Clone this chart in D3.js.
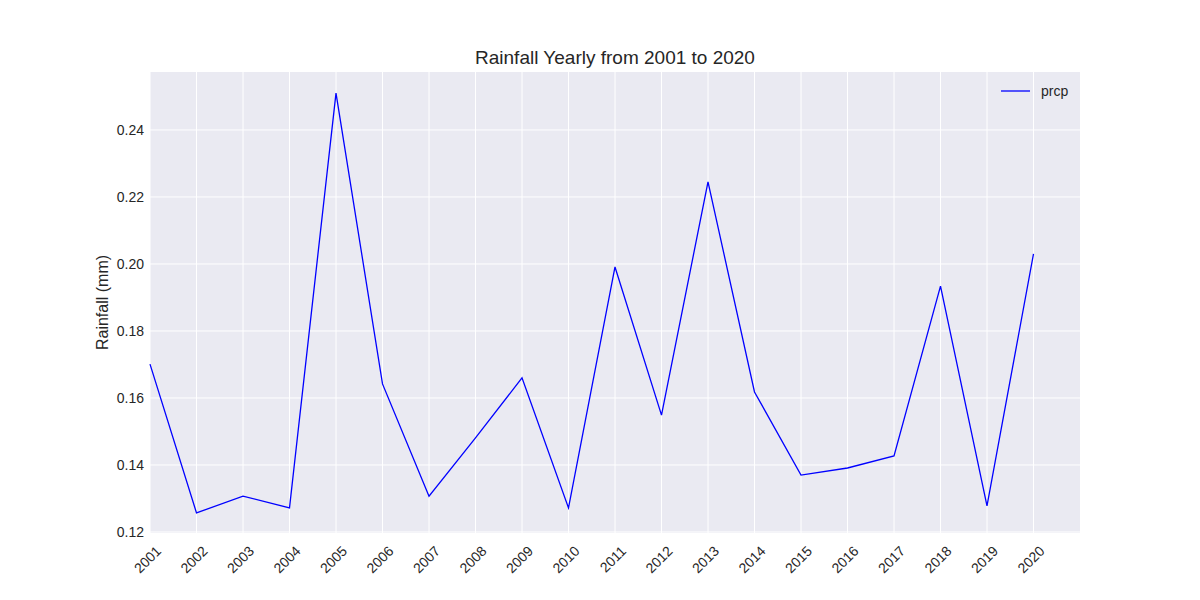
<!DOCTYPE html>
<html><head><meta charset="utf-8">
<script src="https://cdn.jsdelivr.net/npm/d3@7"></script>
<style>body{margin:0;background:#fff;font-family:"Liberation Sans",Arial,sans-serif;}</style>
</head><body><svg id="c" width="1200" height="600"></svg>
<script>
const years = [2001,2002,2003,2004,2005,2006,2007,2008,2009,2010,2011,2012,2013,2014,2015,2016,2017,2018,2019,2020];
const prcp = [0.1701,0.1257,0.1307,0.1272,0.2510,0.1642,0.1307,0.1481,0.1660,0.1272,0.1991,0.1549,0.2245,0.1618,0.1370,0.1391,0.1427,0.1934,0.1278,0.2030];
const yTicks = [0.12,0.14,0.16,0.18,0.20,0.22,0.24];

const svg = d3.select("#c");
const L=150,R=1080,T=72,B=533;
const x = d3.scaleLinear().domain([2001,2021]).range([L,R]);
const y = d3.scaleLinear().domain([0.1197,0.2573]).range([B,T]);

svg.append("rect").attr("x",L).attr("y",T).attr("width",R-L).attr("height",B-T).attr("fill","#eaeaf2");
const g = svg.append("g");
g.selectAll(".vx").data(years).join("line").attr("x1",d=>x(d)).attr("x2",d=>x(d)).attr("y1",T).attr("y2",B).attr("stroke","#fff").attr("stroke-width",1);
g.selectAll(".hy").data(yTicks).join("line").attr("x1",L).attr("x2",R).attr("y1",d=>y(d)).attr("y2",d=>y(d)).attr("stroke","#fff").attr("stroke-width",1);

const line = d3.line().x((d,i)=>x(years[i])).y(d=>y(d));
svg.append("path").datum(prcp).attr("d",line).attr("fill","none").attr("stroke","#0000ff").attr("stroke-width",1.3);

svg.selectAll(".yl").data(yTicks).join("text").attr("x",L-6).attr("y",d=>y(d)).attr("dy","0.35em")
  .attr("text-anchor","end").attr("font-size",14).attr("fill","#262626").text(d=>d.toFixed(2));
svg.selectAll(".xl").data(years).join("text")
  .attr("transform",d=>`translate(${x(d)+5},${B+12}) rotate(-45)`)
  .attr("text-anchor","end").attr("dy","0.7em").attr("font-size",14).attr("fill","#262626").text(d=>d);

svg.append("text").attr("x",615).attr("y",64).attr("text-anchor","middle").attr("font-size",19).attr("fill","#262626").text("Rainfall Yearly from 2001 to 2020");
svg.append("text").attr("transform",`translate(108,${(T+B)/2}) rotate(-90)`).attr("text-anchor","middle").attr("font-size",16).attr("fill","#262626").text("Rainfall (mm)");

svg.append("line").attr("x1",1001).attr("x2",1030).attr("y1",91).attr("y2",91).attr("stroke","#0000ff").attr("stroke-width",1.3);
svg.append("text").attr("x",1041).attr("y",91).attr("dy","0.35em").attr("font-size",14).attr("fill","#262626").text("prcp");
</script></body></html>
